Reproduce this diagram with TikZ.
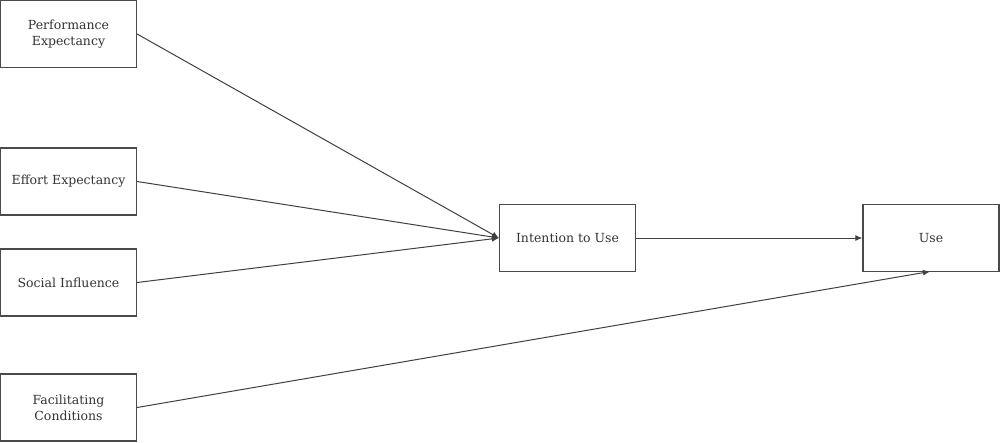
\documentclass[tikz,border=0pt]{standalone}
\usepackage{fontspec}
\setmainfont{DejaVu Serif}
\usetikzlibrary{arrows.meta}
\definecolor{txt}{HTML}{333333}
\definecolor{edge}{HTML}{4A4A4A}
\begin{document}
\begin{tikzpicture}[x=1pt,y=-1pt,
  box/.style={draw=edge,line width=1.2pt,minimum width=136pt,minimum height=67pt,
    align=center,inner sep=2pt,text=txt,font=\fontsize{12.5}{16}\selectfont},
  conn/.style={draw=black!75,line width=1pt,-{Latex[length=7pt,width=6pt]}}]
\useasboundingbox (0,0) rectangle (1000,442);
\node[box] (pe) at (68.5,34) {Performance\\Expectancy};
\node[box] (ee) at (68.5,181.5) {Effort Expectancy};
\node[box] (si) at (68.5,282.5) {Social Influence};
\node[box] (fc) at (68.5,407.5) {Facilitating\\Conditions};
\node[box] (iu) at (567.5,238) {Intention to Use};
\node[box] (us) at (931,238) {Use};
\coordinate (ut) at (930,271.5);
\draw[conn] (pe.east) -- (iu.west);
\draw[conn] (ee.east) -- (iu.west);
\draw[conn] (si.east) -- (iu.west);
\draw[conn] (iu.east) -- (us.west);
\draw[conn] (fc.east) -- (ut);
\end{tikzpicture}
\end{document}
